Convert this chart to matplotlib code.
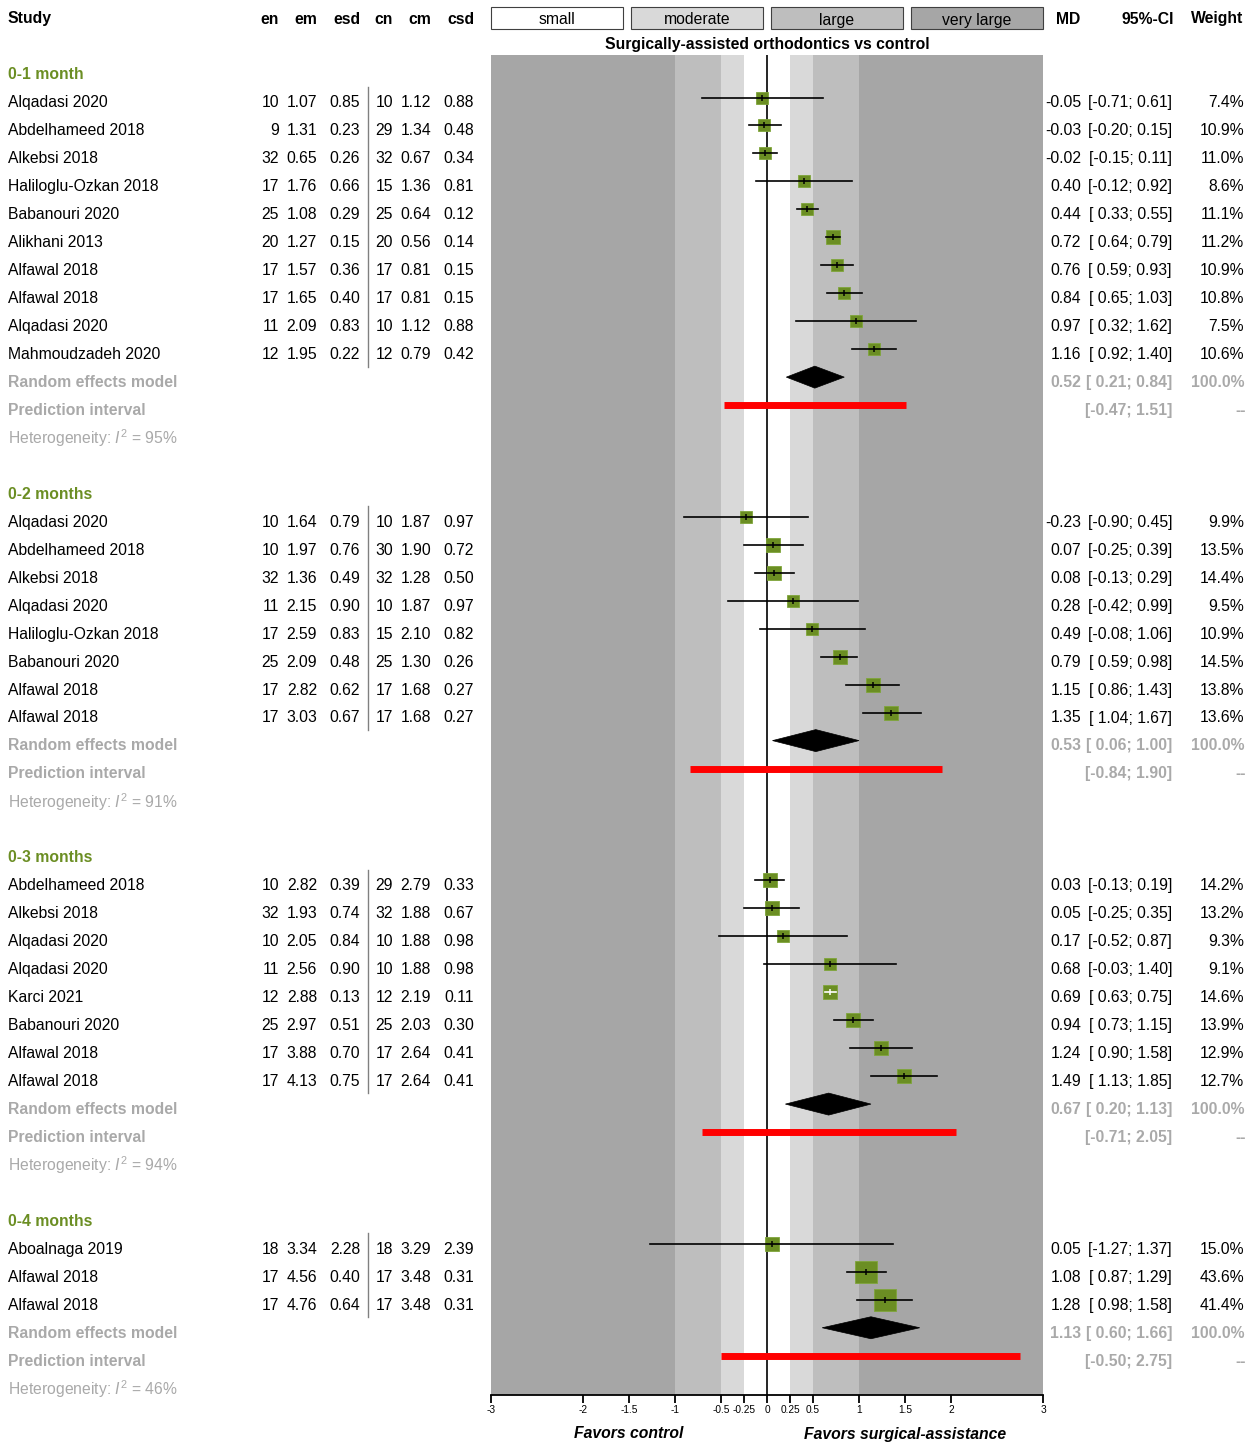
import matplotlib
matplotlib.use("Agg")
import matplotlib.pyplot as plt
from matplotlib.patches import Rectangle, Polygon
from matplotlib.lines import Line2D
from matplotlib.transforms import blended_transform_factory

plt.rcParams['font.family'] = ['Liberation Sans', 'DejaVu Sans']
plt.rcParams['mathtext.fontset'] = 'custom'
plt.rcParams['mathtext.rm'] = 'Liberation Sans'
plt.rcParams['mathtext.it'] = 'Liberation Sans:italic'

# ---- data ----
groups = ["0-1 month", "0-2 months", "0-3 months", "0-4 months"]
group_size = [10, 8, 8, 3]

study = ["Alqadasi 2020", "Abdelhameed 2018", "Alkebsi 2018", "Haliloglu-Ozkan 2018", "Babanouri 2020",
         "Alikhani 2013", "Alfawal 2018", "Alfawal 2018", "Alqadasi 2020", "Mahmoudzadeh 2020",
         "Alqadasi 2020", "Abdelhameed 2018", "Alkebsi 2018", "Alqadasi 2020", "Haliloglu-Ozkan 2018",
         "Babanouri 2020", "Alfawal 2018", "Alfawal 2018",
         "Abdelhameed 2018", "Alkebsi 2018", "Alqadasi 2020", "Alqadasi 2020", "Karci 2021",
         "Babanouri 2020", "Alfawal 2018", "Alfawal 2018",
         "Aboalnaga 2019", "Alfawal 2018", "Alfawal 2018"]
en = [10, 9, 32, 17, 25, 20, 17, 17, 11, 12,
      10, 10, 32, 11, 17, 25, 17, 17,
      10, 32, 10, 11, 12, 25, 17, 17,
      18, 17, 17]
em = [1.07, 1.31, 0.65, 1.76, 1.08, 1.27, 1.57, 1.65, 2.09, 1.95,
      1.64, 1.97, 1.36, 2.15, 2.59, 2.09, 2.82, 3.03,
      2.82, 1.93, 2.05, 2.56, 2.88, 2.97, 3.88, 4.13,
      3.34, 4.56, 4.76]
esd = [0.85, 0.23, 0.26, 0.66, 0.29, 0.15, 0.36, 0.40, 0.83, 0.22,
       0.79, 0.76, 0.49, 0.90, 0.83, 0.48, 0.62, 0.67,
       0.39, 0.74, 0.84, 0.90, 0.13, 0.51, 0.70, 0.75,
       2.28, 0.40, 0.64]
cn = [10, 29, 32, 15, 25, 20, 17, 17, 10, 12,
      10, 30, 32, 10, 15, 25, 17, 17,
      29, 32, 10, 10, 12, 25, 17, 17,
      18, 17, 17]
cm = [1.12, 1.34, 0.67, 1.36, 0.64, 0.56, 0.81, 0.81, 1.12, 0.79,
      1.87, 1.90, 1.28, 1.87, 2.10, 1.30, 1.68, 1.68,
      2.79, 1.88, 1.88, 1.88, 2.19, 2.03, 2.64, 2.64,
      3.29, 3.48, 3.48]
csd = [0.88, 0.48, 0.34, 0.81, 0.12, 0.14, 0.15, 0.15, 0.88, 0.42,
       0.97, 0.72, 0.50, 0.97, 0.82, 0.26, 0.27, 0.27,
       0.33, 0.67, 0.98, 0.98, 0.11, 0.30, 0.41, 0.41,
       2.39, 0.31, 0.31]
md = [-0.05, -0.03, -0.02, 0.40, 0.44, 0.72, 0.76, 0.84, 0.97, 1.16,
      -0.23, 0.07, 0.08, 0.28, 0.49, 0.79, 1.15, 1.35,
      0.03, 0.05, 0.17, 0.68, 0.69, 0.94, 1.24, 1.49,
      0.05, 1.08, 1.28]
ci_lo = [-0.71, -0.20, -0.15, -0.12, 0.33, 0.64, 0.59, 0.65, 0.32, 0.92,
         -0.90, -0.25, -0.13, -0.42, -0.08, 0.59, 0.86, 1.04,
         -0.13, -0.25, -0.52, -0.03, 0.63, 0.73, 0.90, 1.13,
         -1.27, 0.87, 0.98]
ci_hi = [0.61, 0.15, 0.11, 0.92, 0.55, 0.79, 0.93, 1.03, 1.62, 1.40,
         0.45, 0.39, 0.29, 0.99, 1.06, 0.98, 1.43, 1.67,
         0.19, 0.35, 0.87, 1.40, 0.75, 1.15, 1.58, 1.85,
         1.37, 1.29, 1.58]
weight = [7.4, 10.9, 11.0, 8.6, 11.1, 11.2, 10.9, 10.8, 7.5, 10.6,
          9.9, 13.5, 14.4, 9.5, 10.9, 14.5, 13.8, 13.6,
          14.2, 13.2, 9.3, 9.1, 14.6, 13.9, 12.9, 12.7,
          15.0, 43.6, 41.4]

re_md = [0.52, 0.53, 0.67, 1.13]
re_lo = [0.21, 0.06, 0.20, 0.60]
re_hi = [0.84, 1.00, 1.13, 1.66]
pi_lo = [-0.47, -0.84, -0.71, -0.50]
pi_hi = [1.51, 1.90, 2.05, 2.75]
i2 = [95, 91, 94, 46]

ticks = [-3, -2, -1.5, -1, -0.5, -0.25, 0, 0.25, 0.5, 1, 1.5, 2, 3]
tick_labels = ["-3", "-2", "-1.5", "-1", "-0.5", "-0.25", "0", "0.25", "0.5", "1", "1.5", "2", "3"]

# ---- style ----
W, H = 1256, 1442
green = '#6b8e23'
grey = '#a9a9a9'
c_vlarge, c_large, c_mod = '#a6a6a6', '#bebebe', '#d9d9d9'
fs = 11.3
y0, dy = 17, 27.96          # pixel y of row 0 and row spacing
px_per_unit = 92.0
off = -0.12                  # marks sit slightly above text centre
toff = 2.0 / dy              # text nudged down a little


def X(px):
    return px / W


def Y(px):
    return (H - px) / H


def ci_str(lo, hi):
    return "[%s; %.2f]" % (("%.2f" % lo).rjust(5), hi)


fig = plt.figure(figsize=(W / 100, H / 100), dpi=100)
top_px, bot_px = 55, 1395
ax = fig.add_axes([X(491), Y(bot_px), 552 / W, (bot_px - top_px) / H])
ax.set_xlim(-3, 3)
ax.set_ylim((bot_px - y0) / dy, (top_px - y0) / dy)
tr = blended_transform_factory(fig.transFigure, ax.transData)


def txt(px, row, s, ha='right', **kw):
    ax.text(X(px), row + toff, s, transform=tr, ha=ha, va='center', fontsize=fs, **kw)


# background bands
ax.axvspan(-3, -1, color=c_vlarge, lw=0)
ax.axvspan(-1, -0.5, color=c_large, lw=0)
ax.axvspan(-0.5, -0.25, color=c_mod, lw=0)
ax.axvspan(0.25, 0.5, color=c_mod, lw=0)
ax.axvspan(0.5, 1, color=c_large, lw=0)
ax.axvspan(1, 3, color=c_vlarge, lw=0)
ax.axvline(0, color='black', lw=1.2, zorder=2)

for s in ['top', 'left', 'right']:
    ax.spines[s].set_visible(False)
ax.spines['bottom'].set_linewidth(1.3)
ax.set_yticks([])
ax.set_xticks(ticks)
ax.set_xticklabels(tick_labels, fontsize=7.3)
ax.tick_params(axis='x', length=5.5, width=1.3, pad=2)

# legend boxes and headers
for x0, lab, col in [(491, "small", 'white'), (631, "moderate", c_mod),
                     (771, "large", c_large), (911, "very large", c_vlarge)]:
    fig.add_artist(Rectangle((X(x0), Y(29)), 132 / W, 22 / H, transform=fig.transFigure,
                             facecolor=col, edgecolor='#404040', lw=0.8))
    fig.text(X(x0 + 66), Y(20), lab, ha='center', va='center', fontsize=fs)

fig.text(X(767), Y(45), "Surgically-assisted orthodontics vs control", ha='center', va='center',
         fontsize=fs, fontweight='bold')

col_x = [279, 317, 360, 393, 431, 474]
hdr = ["en", "em", "esd", "cn", "cm", "csd"]
txt(8, 0, "Study", ha='left', fontweight='bold')
for cx, h in zip(col_x, hdr):
    txt(cx, 0, h, fontweight='bold')
txt(1080, 0, "MD", fontweight='bold')
txt(1174, 0, "95%-CI", fontweight='bold')
txt(1243, 0, "Weight", fontweight='bold')

# ---- rows ----
r = 2
k = 0
for g, n in enumerate(group_size):
    txt(8, r, groups[g], ha='left', fontweight='bold', color=green)
    first = r + 1
    for i in range(n):
        rr = first + i
        txt(8, rr, study[k], ha='left')
        vals = [str(en[k]), "%.2f" % em[k], "%.2f" % esd[k], str(cn[k]), "%.2f" % cm[k], "%.2f" % csd[k]]
        for cx, v in zip(col_x, vals):
            txt(cx, rr, v)
        txt(1081, rr, "%.2f" % md[k])
        txt(1172, rr, ci_str(ci_lo[k], ci_hi[k]))
        txt(1244, rr, "%.1f%%" % weight[k])

        side = 3.0 * weight[k] ** 0.5 + 3.0
        ax.plot([md[k]], [rr + off], marker='s', ms=side * 0.72, color=green, mec='#7fa53a', mew=0.6,
                zorder=3, linestyle='none')
        lc = 'white' if (ci_hi[k] - ci_lo[k]) * px_per_unit < side else 'black'
        ax.plot([ci_lo[k], ci_hi[k]], [rr + off, rr + off], color=lc, lw=1.2, zorder=4)
        ax.plot([md[k]], [rr + off], marker='|', ms=5, mew=1.1, color=lc, zorder=4)
        k += 1
    last = first + n - 1
    fig.add_artist(Line2D([X(368), X(368)], [first - 0.5, last + 0.5], transform=tr,
                          color='#808080', lw=1.0))

    rr = last + 1
    txt(8, rr, "Random effects model", ha='left', fontweight='bold', color=grey)
    txt(1081, rr, "%.2f" % re_md[g], fontweight='bold', color=grey)
    txt(1172, rr, ci_str(re_lo[g], re_hi[g]), fontweight='bold', color=grey)
    txt(1244, rr, "100.0%", fontweight='bold', color=grey)
    h = 11 / dy
    ax.add_patch(Polygon([(re_lo[g], rr + off), (re_md[g], rr + off - h), (re_hi[g], rr + off),
                          (re_md[g], rr + off + h)], closed=True, facecolor='black', edgecolor='black',
                         lw=0.5, zorder=3))

    rr = last + 2
    txt(8, rr, "Prediction interval", ha='left', fontweight='bold', color=grey)
    txt(1172, rr, ci_str(pi_lo[g], pi_hi[g]), fontweight='bold', color=grey)
    txt(1246, rr, "--", fontweight='bold', color=grey)
    ax.plot([pi_lo[g], pi_hi[g]], [rr + off, rr + off], color='red', lw=5, solid_capstyle='butt', zorder=3)

    rr = last + 3
    txt(8, rr, "Heterogeneity: $\\mathit{I}^{2}$ = %d%%" % i2[g], ha='left', color=grey)

    r = last + 5

fig.text(X(629), Y(1434), "Favors control", ha='center', va='center', fontsize=fs,
         fontweight='bold', fontstyle='italic')
fig.text(X(905), Y(1434), "Favors surgical-assistance", ha='center', va='center', fontsize=fs,
         fontweight='bold', fontstyle='italic')

fig.savefig("out.png", dpi=100)
